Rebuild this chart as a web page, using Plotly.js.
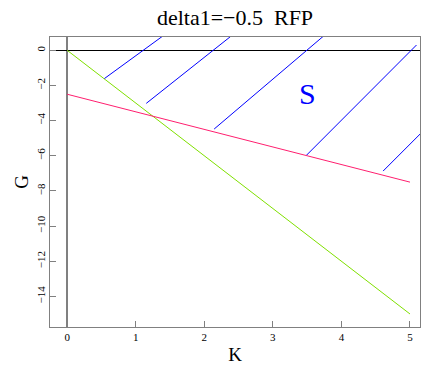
<!DOCTYPE html>
<html>
<head>
<meta charset="utf-8">
<script src="https://cdn.plot.ly/plotly-3.0.1.min.js"></script>
<style>html,body{margin:0;padding:0;background:#fff;}#chart{width:421px;height:370px;}</style>
</head>
<body>
<div id="chart"></div>
<script>
// Data
var lineK = [0, 5];
var greenG = [0, -15];
var redG = [-2.5, -7.5];
var hatchK0 = [0.543, 1.154, 2.144, 3.493, 4.608];
var hatchG0 = [-1.61, -3.02, -4.48, -5.96, -6.87];
var hatchK1 = [1.39, 2.387, 3.735, 5.095, 5.30];
var hatchG1 = [0.795, 0.795, 0.795, 0.30, -4.17];
var xTicks = [0, 1, 2, 3, 4, 5];
var yTicks = [0, -2, -4, -6, -8, -10, -12, -14];
var regionLabel = {text: 'S', K: 3.51, G: -2.47};

var hx = [], hy = [];
for (var i = 0; i < hatchK0.length; i++) {
  hx.push(hatchK0[i], hatchK1[i], null);
  hy.push(hatchG0[i], hatchG1[i], null);
}

var serif = '"Liberation Serif", serif';
var traces = [
  {x: lineK, y: greenG, mode: 'lines', line: {color: '#7fe000', width: 1}, hoverinfo: 'skip'},
  {x: lineK, y: redG, mode: 'lines', line: {color: '#ff1f6f', width: 1}, hoverinfo: 'skip'},
  {x: hx, y: hy, mode: 'lines', line: {color: '#0000ff', width: 1}, connectgaps: false, hoverinfo: 'skip'}
];

var axisCommon = {
  showgrid: false, showline: true, mirror: true, linecolor: '#808080', linewidth: 1,
  ticks: 'inside', ticklen: 6, tickcolor: '#808080', tickwidth: 1,
  tickfont: {family: serif, size: 11, color: '#000'}
};

var layout = {
  width: 421, height: 370,
  margin: {l: 50, r: 1, t: 37, b: 43},
  paper_bgcolor: '#fff', plot_bgcolor: '#fff',
  font: {family: serif},
  showlegend: false,
  title: {text: 'delta1=\u22120.5\u00a0 RFP', font: {family: serif, size: 22, color: '#000'},
          x: 0.5, xref: 'paper', xanchor: 'center', y: 0.954, yref: 'container', yanchor: 'middle'},
  xaxis: Object.assign({}, axisCommon, {
    range: [-0.25, 5.146], tickvals: xTicks, ticktext: xTicks.map(String),
    zeroline: true, zerolinecolor: '#808080', zerolinewidth: 2,
    title: {text: 'K', font: {family: serif, size: 19, color: '#000'}, standoff: 5}
  }),
  yaxis: Object.assign({}, axisCommon, {
    range: [-15.74, 0.755], tickvals: yTicks, tickangle: -90,
    zeroline: true, zerolinecolor: '#000', zerolinewidth: 1,
    title: {text: 'G', font: {family: serif, size: 19, color: '#000'}, standoff: 0}
  }),
  annotations: [{
    x: regionLabel.K, y: regionLabel.G, xref: 'x', yref: 'y', text: regionLabel.text,
    showarrow: false, font: {family: serif, size: 30, color: '#0000ff'}
  }]
};

Plotly.newPlot('chart', traces, layout, {staticPlot: true, displayModeBar: false});
</script>
</body>
</html>
